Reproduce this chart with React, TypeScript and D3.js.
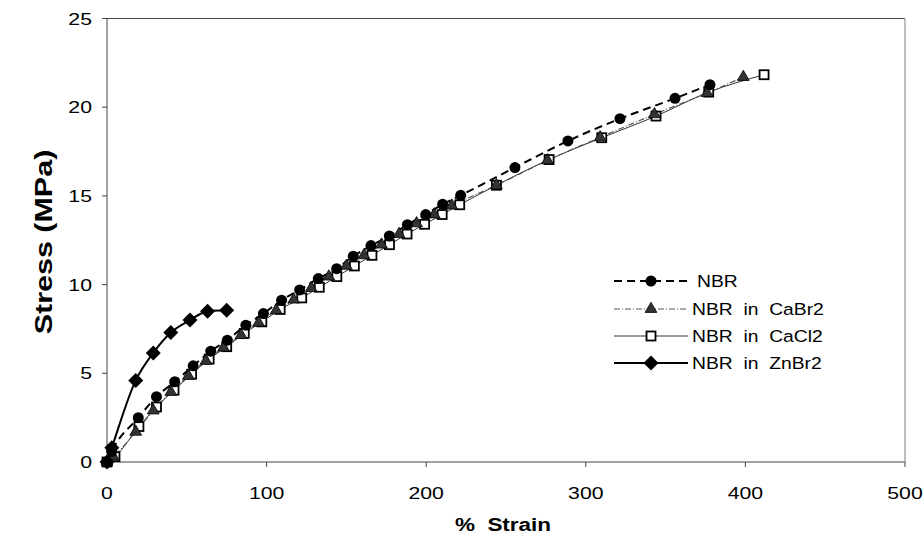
import React from "react";
import * as d3 from "d3";

const seriesNames = ["NBR", "NBR  in  CaBr2", "NBR  in  CaCl2", "NBR  in  ZnBr2"];

const nbrX = [0, 3, 19.6, 31, 42.4, 54, 65, 75.4, 87, 98, 109.4, 120.7, 132.4, 143.9, 154.3, 165.4, 176.9, 188.2, 199.7, 210.3, 221.6, 255.6, 288.8, 321.4, 355.9, 377.8];
const nbrY = [0, 0.6, 2.5, 3.68, 4.52, 5.42, 6.25, 6.87, 7.71, 8.37, 9.12, 9.7, 10.34, 10.9, 11.6, 12.2, 12.74, 13.38, 13.95, 14.53, 15.03, 16.6, 18.1, 19.35, 20.5, 21.27];

const cabr2X = [0, 4, 18, 29, 40, 51, 62, 73, 84, 95, 106, 117, 128, 139, 150, 161, 172, 183, 194, 205, 216, 244, 276, 309, 343, 376, 398.7];
const cabr2Y = [0, 0.3, 1.7, 2.9, 3.95, 4.85, 5.7, 6.45, 7.15, 7.85, 8.55, 9.15, 9.8, 10.45, 11.05, 11.65, 12.25, 12.85, 13.45, 13.95, 14.45, 15.6, 17.0, 18.3, 19.6, 20.8, 21.7];

const cacl2X = [0, 5, 20, 31, 42, 53, 64, 75, 86, 97, 108.5, 122, 133, 144, 155, 166, 177, 188, 199, 210, 221, 244, 277, 310, 344, 377, 411.7];
const cacl2Y = [0, 0.3, 2.0, 3.1, 4.05, 4.95, 5.8, 6.5, 7.25, 7.9, 8.6, 9.25, 9.85, 10.45, 11.05, 11.65, 12.25, 12.85, 13.4, 13.95, 14.5, 15.6, 17.05, 18.28, 19.5, 20.85, 21.83];

const znbr2X = [0, 3, 18, 29, 40, 52, 63, 75];
const znbr2Y = [0, 0.8, 4.6, 6.15, 7.3, 8.0, 8.5, 8.55];

const xTicks = [0, 100, 200, 300, 400, 500];
const yTicks = [0, 5, 10, 15, 20, 25];

const W = 924, H = 539;
const L = 107, R = 905, T = 18.5, B = 462;

type Pt = [number, number];
const zip = (xs: number[], ys: number[]): Pt[] => xs.map((x, i) => [x, ys[i]]);

export default function App() {
  const x = d3.scaleLinear().domain([0, 500]).range([L, R]);
  const y = d3.scaleLinear().domain([0, 25]).range([B, T]);
  const line = d3.line<Pt>().x(d => x(d[0])).y(d => y(d[1])).curve(d3.curveMonotoneX);

  const nbr = zip(nbrX, nbrY);
  const cabr = zip(cabr2X, cabr2Y);
  const cacl = zip(cacl2X, cacl2Y);
  const zn = zip(znbr2X, znbr2Y);

  const tri = d3.symbol().type(d3.symbolTriangle).size(60)() as string;
  const font = "Liberation Sans, Arial, sans-serif";
  const SX = 1.25;

  const circle = (cx: number, cy: number, k: string | number) => (
    <circle key={k} cx={cx} cy={cy} r={5.5} fill="#000" />
  );
  const triangle = (cx: number, cy: number, k: string | number) => (
    <path key={k} d={tri} transform={`translate(${cx},${cy})`} fill="#333" stroke="#000" strokeWidth={0.8} />
  );
  const square = (cx: number, cy: number, k: string | number) => (
    <rect key={k} x={cx - 4.5} y={cy - 4.5} width={9} height={9} fill="#fff" stroke="#000" strokeWidth={1.8} />
  );
  const diamond = (cx: number, cy: number, k: string | number) => (
    <path key={k} d={`M${cx},${cy - 7.5}L${cx + 7.5},${cy}L${cx},${cy + 7.5}L${cx - 7.5},${cy}Z`} fill="#000" />
  );

  const legendRows = [
    { dash: "8,5", stroke: "#000", sw: 2, mk: circle },
    { dash: "6,2,1,2", stroke: "#555", sw: 1.2, mk: triangle },
    { dash: "", stroke: "#000", sw: 0.8, mk: square },
    { dash: "", stroke: "#000", sw: 2, mk: diamond },
  ];
  const legendY = [281, 309, 336, 363];

  return (
    <svg width={W} height={H} style={{ position: "absolute", left: 0, top: 0, background: "#fff" }}>
      <rect x={0} y={0} width={W} height={H} fill="#fff" />
      {/* frame */}
      <line x1={L} y1={T} x2={R} y2={T} stroke="#444" strokeWidth={1} />
      <line x1={R} y1={T} x2={R} y2={B} stroke="#aaa" strokeWidth={1.5} />
      <line x1={L} y1={B} x2={R} y2={B} stroke="#444" strokeWidth={1} />
      <line x1={L} y1={T} x2={L} y2={B} stroke="#444" strokeWidth={1} />
      {/* ticks */}
      {xTicks.map(t => (
        <g key={"xt" + t}>
          <line x1={x(t)} x2={x(t)} y1={B} y2={B + 5} stroke="#444" />
          <text transform={`translate(${x(t)},${B + 37}) scale(${SX},1)`} textAnchor="middle" fontFamily={font} fontSize={17}>{t}</text>
        </g>
      ))}
      {yTicks.map(t => (
        <g key={"yt" + t}>
          <line x1={L - 5} x2={L} y1={y(t)} y2={y(t)} stroke="#444" />
          <text transform={`translate(92,${y(t) + 6}) scale(${SX},1)`} textAnchor="end" fontFamily={font} fontSize={17}>{t}</text>
        </g>
      ))}
      {/* series lines */}
      <path d={line(cacl) || ""} fill="none" stroke="#000" strokeWidth={0.8} />
      <path d={line(cabr) || ""} fill="none" stroke="#555" strokeWidth={1.2} strokeDasharray="6,2,1,2" />
      <path d={line(nbr) || ""} fill="none" stroke="#000" strokeWidth={2} strokeDasharray="8,5" />
      <path d={line(zn) || ""} fill="none" stroke="#000" strokeWidth={2} />
      {/* markers */}
      {cacl.map((d, i) => square(x(d[0]), y(d[1]), "s" + i))}
      {cabr.map((d, i) => triangle(x(d[0]), y(d[1]), "t" + i))}
      {nbr.map((d, i) => circle(x(d[0]), y(d[1]), "c" + i))}
      {zn.map((d, i) => diamond(x(d[0]), y(d[1]), "d" + i))}
      {/* legend */}
      {legendRows.map((r, i) => (
        <g key={"lg" + i}>
          <line x1={614} x2={688} y1={legendY[i]} y2={legendY[i]} stroke={r.stroke} strokeWidth={r.sw} strokeDasharray={r.dash || undefined} />
          {r.mk(651, legendY[i], "lm" + i)}
          <text transform={`translate(${i === 0 ? 697 : 692},${legendY[i] + 6}) scale(1.17,1)`} fontFamily={font} fontSize={16.5} style={{ whiteSpace: "pre" }}>{seriesNames[i]}</text>
        </g>
      ))}
      {/* axis titles */}
      <text transform={`translate(503,531) scale(${SX},1)`} textAnchor="middle" fontFamily={font} fontWeight="bold" fontSize={18} style={{ whiteSpace: "pre" }}>{"%  Strain"}</text>
      <text transform={`translate(52,242) rotate(-90) scale(1.27,1)`} textAnchor="middle" fontFamily={font} fontWeight="bold" fontSize={24}>Stress (MPa)</text>
    </svg>
  );
}
